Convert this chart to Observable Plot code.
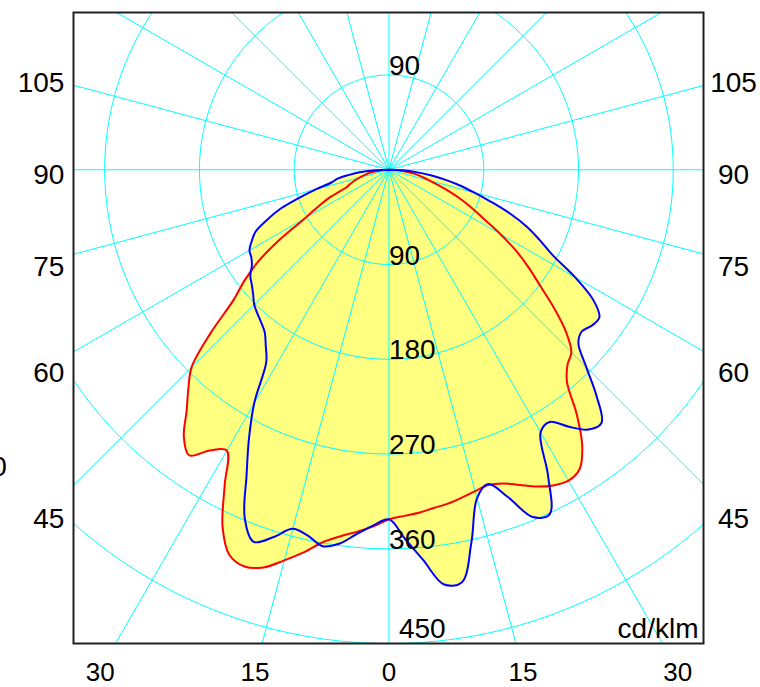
<!DOCTYPE html>
<html>
<head>
<meta charset="utf-8">
<script src="https://cdn.jsdelivr.net/npm/d3@7"></script>
<script src="https://cdn.jsdelivr.net/npm/@observablehq/plot@0.6"></script>
<style>
  html, body { margin: 0; padding: 0; background: #fff; }
  #chart { width: 760px; height: 687px; overflow: hidden; }
</style>
</head>
<body>
<div id="chart"></div>
<script>
// Gamma angles (degrees from the downward vertical) shared by every half-plane
const gammas = [0,2.5,5,7.5,10,12.5,15,17.5,20,22.5,25,27.5,30,32.5,35,37.5,40,42.5,45,47.5,50,52.5,55,57.5,60,62.5,65,67.5,70,72.5,75,77.5,80,82.5,85,87.5,90];

// Luminous intensity, cd/klm
// red plane: right half and left half
const redRight = [332,329,327,324,322,319,316,314,317,324,332,338,341,337,320,293,263,251,245,228,205,181,162,143,122,102,88,75,62,50,40,33,27,20,13,7,0];
const redLeft  = [332,339,345,351,359,372,384,396,401,396,374,338,308,316,331,320,299,282,265,230,193,173,151,122,92,76,62,44,39,34,29,24,20,15,10,5,0];
// blue plane: right half and left half
const blueRight = [332,351,372,397,398,362,323,313,331,357,361,327,288,284,298,311,314,292,265,244,239,243,244,230,204,175,158,142,123,102,84,69,54,40,26,13,0];
const blueLeft  = [332,338,347,358,363,356,353,366,376,358,320,288,256,217,204,194,189,185,181,175,170,166,159,155,153,147,140,126,111,90,72,56,50,39,28,15,0];

// Grid
const circleValues = [90, 180, 270, 360, 450];
const circleLabels = ["90", "180", "270", "360", "450"];
const topCircleValue = 90;
const spokeAngles = d3.range(0, 360, 15);

// Angle tick labels
const sideTickAngles = [45, 60, 75, 90, 105];
const sideTickLabels = ["45", "60", "75", "90", "105"];
const bottomTickAngles = [-30, -15, 0, 15, 30];
const bottomTickLabels = ["30", "15", "0", "15", "30"];
const unitLabel = "cd/klm";

// ---- layout constants (data units of the diagram) ----
const xDomain = [-299.6, 298.7];
const yDomain = [-149.33, 449.91];     // upward .. downward
const sideLabelDist = 326.7;
const leftLabelX = -308.2;
const rightLabelX = 327.2;
const bottomLabelDist = 475;

const rad = d => d * Math.PI / 180;
const polar = (g, r) => ({x: r * Math.sin(rad(g)), y: r * Math.cos(rad(g))});

function outline(right, left) {
  const pts = [];
  for (let i = gammas.length - 1; i >= 0; i--) pts.push(polar(gammas[i], right[i]));
  for (let i = 1; i < gammas.length; i++) pts.push(polar(-gammas[i], left[i]));
  return pts;
}
const redPts = outline(redRight, redLeft);
const bluePts = outline(blueRight, blueLeft);

// spoke length: up to the edge of the frame
function spokeReach(a) {
  const dx = Math.sin(rad(a)), dy = Math.cos(rad(a));
  const ts = [];
  if (dx > 1e-9) ts.push(xDomain[1] / dx);
  if (dx < -1e-9) ts.push(xDomain[0] / dx);
  if (dy > 1e-9) ts.push(yDomain[1] / dy);
  if (dy < -1e-9) ts.push(yDomain[0] / dy);
  return Math.min(...ts);
}

const circlePts = circleValues.flatMap(v => d3.range(0, 361, 2).map(a => ({v, ...polar(a, v)})));
const spokes = spokeAngles.map(a => ({a, ...polar(a, spokeReach(a))}));

const innerLabels = circleValues.slice(0, 4).map((v, i) => ({x: 0, y: v, t: circleLabels[i]}));
const lastLabel = [{x: 0, y: circleValues[4], t: circleLabels[4]}];
const topLabel = [{x: 0, y: -topCircleValue, t: String(topCircleValue)}];

const leftLabels = sideTickAngles.map((g, i) => ({x: leftLabelX, y: sideLabelDist / Math.tan(rad(g)), t: sideTickLabels[i]}));
const rightLabels = sideTickAngles.map((g, i) => ({x: rightLabelX, y: sideLabelDist / Math.tan(rad(g)), t: sideTickLabels[i]}));
const bottomLabels = bottomTickAngles.map((g, i) => ({x: bottomLabelDist * Math.tan(rad(g)), y: bottomLabelDist, t: bottomTickLabels[i]}));
const strayLabel = [{x: -362.8, y: 282.5, t: "0"}];

const FONT = "Liberation Sans, Arial, Helvetica, sans-serif";
const FS = 28;
const YELLOW = "#ffff80", CYAN = "#00ffff";

const chart = Plot.plot({
  width: 760,
  height: 687,
  marginLeft: 73,
  marginRight: 57,
  marginTop: 12,
  marginBottom: 44,
  x: {domain: xDomain, axis: null},
  y: {domain: [yDomain[1], yDomain[0]], axis: null},
  style: {fontFamily: FONT, background: "white", overflow: "visible", color: "black"},
  marks: [
    Plot.line(redPts, {x: "x", y: "y", fill: YELLOW, stroke: "none", curve: "catmull-rom"}),
    Plot.line(bluePts, {x: "x", y: "y", fill: YELLOW, stroke: "none", curve: "catmull-rom"}),
    Plot.line(circlePts, {x: "x", y: "y", z: "v", stroke: CYAN, strokeWidth: 1, clip: true}),
    Plot.link(spokes, {x1: () => 0, y1: () => 0, x2: "x", y2: "y", stroke: CYAN, strokeWidth: 1}),
    Plot.line(redPts, {x: "x", y: "y", stroke: "#ff0000", strokeWidth: 2, curve: "catmull-rom"}),
    Plot.line(bluePts, {x: "x", y: "y", stroke: "#0000ff", strokeWidth: 2, curve: "catmull-rom"}),
    Plot.text(innerLabels, {x: "x", y: "y", text: "t", textAnchor: "start", lineAnchor: "bottom", fontSize: FS, fill: "black"}),
    Plot.text(topLabel, {x: "x", y: "y", text: "t", textAnchor: "start", lineAnchor: "bottom", fontSize: FS, fill: "black"}),
    Plot.text(lastLabel, {x: "x", y: "y", text: "t", textAnchor: "start", lineAnchor: "bottom", dx: 10, dy: -6, fontSize: FS, fill: "black"}),
    Plot.text(leftLabels, {x: "x", y: "y", text: "t", textAnchor: "end", lineAnchor: "middle", dy: 5, fontSize: FS, fill: "black"}),
    Plot.text(rightLabels, {x: "x", y: "y", text: "t", textAnchor: "middle", lineAnchor: "middle", dy: 5, fontSize: FS, fill: "black"}),
    Plot.text(bottomLabels, {x: "x", y: "y", text: "t", textAnchor: "middle", lineAnchor: "middle", dy: 3, fontSize: 26, fill: "black"}),
    Plot.text(strayLabel, {x: "x", y: "y", text: "t", textAnchor: "end", lineAnchor: "middle", fontSize: FS, fill: "black"}),
    Plot.text([unitLabel], {frameAnchor: "bottom-right", text: d => d, textAnchor: "end", lineAnchor: "bottom", dx: -5, dy: -6, fontSize: FS, fill: "black"}),
    Plot.frame({stroke: "#231f20", strokeWidth: 2})
  ]
});
document.getElementById("chart").appendChild(chart);
</script>
</body>
</html>
